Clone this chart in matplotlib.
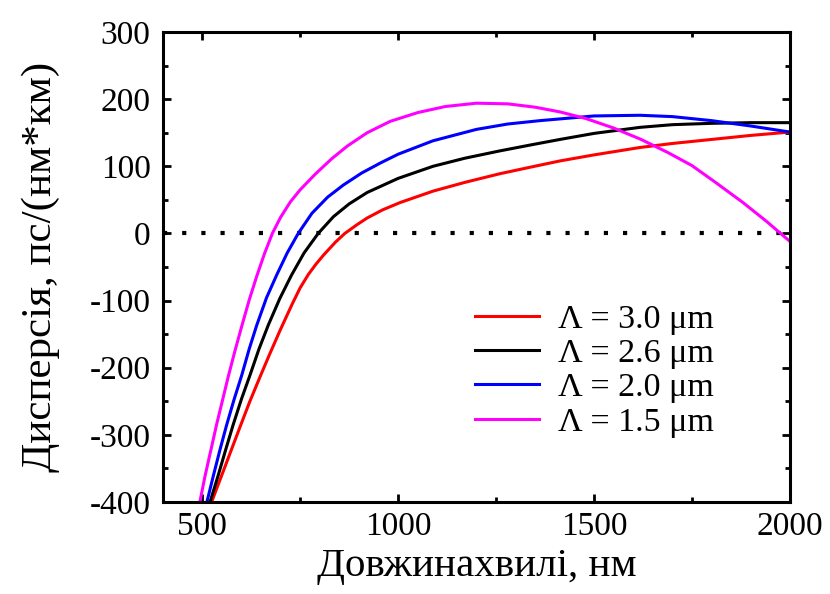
import matplotlib
matplotlib.use("Agg")
import matplotlib.pyplot as plt
from matplotlib.ticker import MultipleLocator

plt.rcParams["font.family"] = ["Liberation Serif", "DejaVu Serif"]
plt.rcParams["axes.unicode_minus"] = False

# dispersion curves for four lattice pitches (wavelength in nm, D in ps/(nm*km))
LAM_30 = [524, 550, 572, 596, 621, 648, 672, 699, 714, 729, 750, 771, 790, 810, 840,
          864, 895, 921, 960, 1005, 1089, 1170, 1260, 1340, 1413, 1500, 1617, 1700,
          1800, 1900, 2000]
D_30 = [-400, -360, -326, -289, -251, -213, -180, -144, -125, -106, -81, -61, -46, -32, -13,
        0, 13, 23, 35, 46, 63, 76, 89, 99, 108, 117, 128, 134,
        140, 146, 151]

LAM_26 = [520, 541, 560, 579, 600, 622, 645, 669, 698, 728, 760, 796, 835, 875, 921,
          1000, 1089, 1170, 1260, 1340, 1413, 1500, 1617, 1700, 1800, 1900, 2000]
D_26 = [-400, -360, -322, -285, -247, -211, -172, -136, -97, -62, -29, 0, 25, 44, 61,
        82, 100, 112, 123, 132, 140, 149, 158, 162, 164, 165, 165]

LAM_20 = [512, 528, 545, 562, 581, 601, 620, 639, 664, 690, 717, 745, 780, 820, 860,
          907, 955, 1000, 1089, 1200, 1280, 1362, 1500, 1617, 1700, 1800, 1900, 2000]
D_20 = [-400, -362, -323, -286, -248, -211, -172, -137, -96, -62, -29, 0, 30, 54, 72,
        90, 105, 118, 138, 155, 163, 168, 175, 176, 174, 168, 160, 151]

LAM_15 = [494, 507, 522, 537, 552, 567, 584, 601, 620, 639, 659, 679, 700, 725, 750,
          788, 830, 870, 921, 980, 1050, 1120, 1200, 1280, 1350, 1413, 1480, 1550,
          1620, 1690, 1750, 1810, 1880, 1940, 2000]
D_15 = [-400, -362, -323, -284, -248, -212, -174, -138, -99, -64, -30, 0, 24, 47, 65,
        88, 111, 130, 150, 167, 180, 189, 194, 193, 188, 181, 171, 157,
        140, 120, 101, 76, 46, 18, -12]

LABELS = ["Λ = 3.0 μm", "Λ = 2.6 μm", "Λ = 2.0 μm", "Λ = 1.5 μm"]
COLORS = ["#ff0000", "#000000", "#0000ff", "#ff00ff"]

fig = plt.figure(figsize=(8.3, 5.94), dpi=100)
ax = fig.add_axes([0.1964, 0.1549, 0.7554, 0.7912])

ax.axhline(0, color="black", lw=3, linestyle=(0, (1, 3.6)), zorder=1)

series = [(LAM_30, D_30), (LAM_26, D_26), (LAM_20, D_20), (LAM_15, D_15)]
for (lam, d), lab, col in zip(series, LABELS, COLORS):
    ax.plot(lam, d, color=col, lw=2.2, label=lab, zorder=2,
            solid_joinstyle="round")

ax.set_xlim(400, 2000)
ax.set_ylim(-400, 300)
ax.xaxis.set_major_locator(MultipleLocator(500))
ax.xaxis.set_minor_locator(MultipleLocator(250))
ax.yaxis.set_major_locator(MultipleLocator(100))
ax.yaxis.set_minor_locator(MultipleLocator(50))

for s in ax.spines.values():
    s.set_linewidth(2.2)
ax.tick_params(which="both", direction="in", top=True, right=True, width=2)
ax.tick_params(which="major", length=6, labelsize=24)
ax.tick_params(which="minor", length=3.5)
ax.tick_params(axis="x", which="major", pad=7)
ax.tick_params(axis="y", which="major", pad=9)

ax.set_xlabel("Довжинахвилі, нм", fontsize=29.5)
ax.set_ylabel("Дисперсія, пс/(нм*км)", fontsize=31)
ax.xaxis.set_label_coords(0.5, -0.098)
ax.yaxis.set_label_coords(-0.165, 0.5)

ax.legend(loc="center left", bbox_to_anchor=(0.497, 0.279), frameon=False,
          fontsize=24.5, borderpad=0, borderaxespad=0, handlelength=1.9,
          handletextpad=0.55, labelspacing=0.1)

fig.savefig("out.png", dpi=100)
